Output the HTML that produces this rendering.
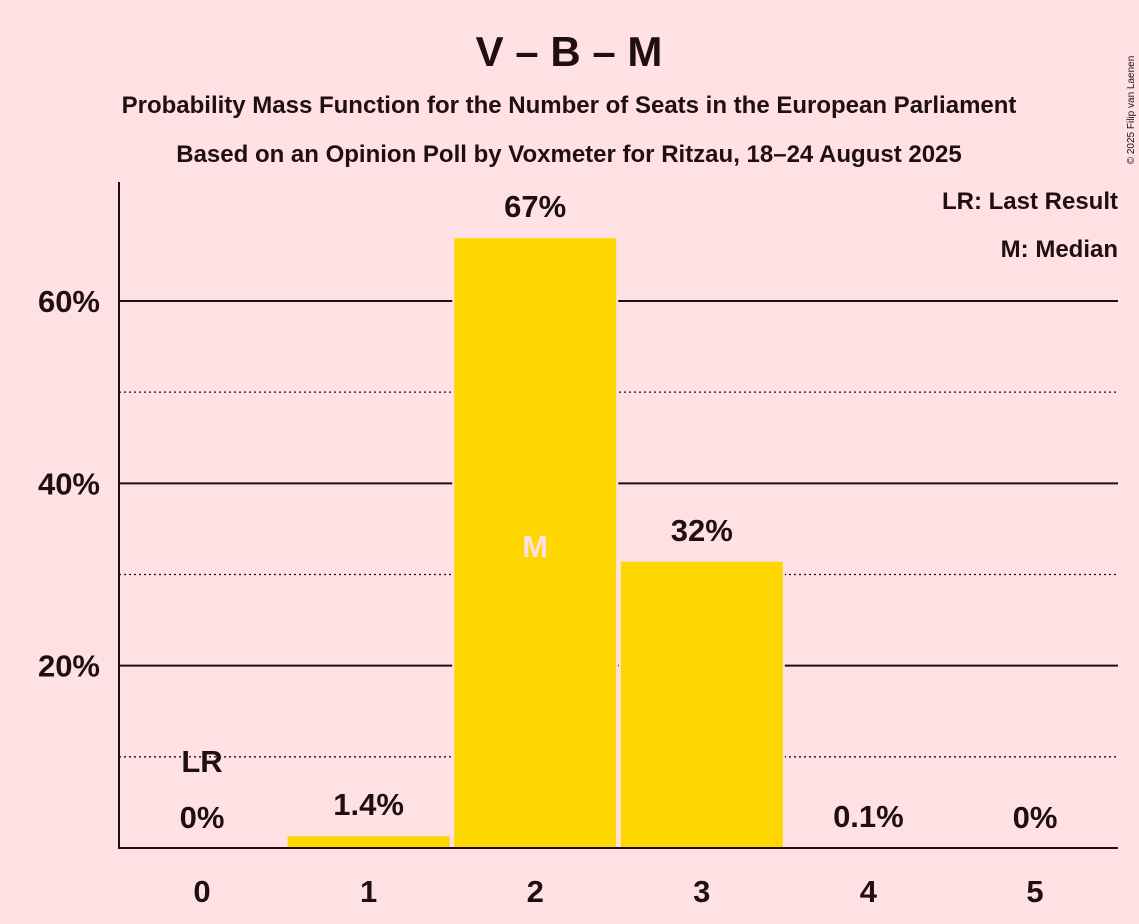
<!DOCTYPE html>
<html><head><meta charset="utf-8"><style>
html,body{margin:0;padding:0;background:#ffe1e4;}
svg{display:block;font-family:"Liberation Sans",sans-serif;}
</style></head><body>
<svg id="chart" width="1139" height="924" viewBox="0 0 1139 924">
<rect width="1139" height="924" fill="#ffe1e4"/>
<text x="569" y="66" text-anchor="middle" font-size="42" font-weight="bold" fill="#1f0f12">V – B – M</text>
<text x="569" y="113" text-anchor="middle" font-size="24" font-weight="bold" fill="#1f0f12">Probability Mass Function for the Number of Seats in the European Parliament</text>
<text x="569" y="162" text-anchor="middle" font-size="24" font-weight="bold" fill="#1f0f12">Based on an Opinion Poll by Voxmeter for Ritzau, 18–24 August 2025</text>
<text x="1134" y="110" font-size="10" fill="#1f0f12" transform="rotate(-90 1134 110)" text-anchor="middle">© 2025 Filip van Laenen</text>
<text x="1118" y="209" text-anchor="end" font-size="24" font-weight="bold" fill="#1f0f12">LR: Last Result</text>
<text x="1118" y="257" text-anchor="end" font-size="24" font-weight="bold" fill="#1f0f12">M: Median</text>
<g id="grid"></g>
<g id="bars"></g>
<g id="labels"></g>
<line x1="119" y1="182" x2="119" y2="849" stroke="#1f0f12" stroke-width="2"/>
<line x1="118" y1="848" x2="1118" y2="848" stroke="#1f0f12" stroke-width="2"/>
</svg>
<script>
const categories = [0, 1, 2, 3, 4, 5];
const values = [0, 1.4, 67, 31.5, 0.1, 0];
const valueLabels = ["0%", "1.4%", "67%", "32%", "0.1%", "0%"];
const yTicks = [20, 40, 60];
const yMinor = [10, 30, 50];
const lastResult = 0;
const median = 2;

const ns = "http://www.w3.org/2000/svg";
const y = v => 848 - v * 9.117;
const x = c => 202 + c * 166.6;
const bw = 164;
function mk(tag, attrs, parent, text) {
  const el = document.createElementNS(ns, tag);
  for (const k in attrs) el.setAttribute(k, attrs[k]);
  if (text !== undefined) el.textContent = text;
  parent.appendChild(el);
  return el;
}
const grid = document.getElementById('grid');
const bars = document.getElementById('bars');
const labels = document.getElementById('labels');
yMinor.forEach(t => {
  const l = mk('line', {x1: 119, x2: 1118, y1: y(t), y2: y(t), stroke: '#1f0f12', 'stroke-width': 1.3, 'stroke-dasharray': '2,3'}, grid);
  
  
});
yTicks.forEach(t => {
  const l = mk('line', {x1: 119, x2: 1118, y1: y(t), y2: y(t), stroke: '#1f0f12', 'stroke-width': 2}, grid);
  
  
  const tx = mk('text', {x: 100, y: y(t) + 11, 'text-anchor': 'end', 'font-size': 31, 'font-weight': 'bold', fill: '#1f0f12'}, labels, t + '%');
  
  
});
categories.forEach((c, i) => {
  const v = values[i];
  const top = y(v);
  if (v > 0) {
    const r = mk('rect', {x: x(c) - bw / 2, y: top, width: bw, height: 848 - top, fill: '#ffd700', stroke: '#ffe1e4', 'stroke-width': 2}, bars);
    
    
  }
  const vl = mk('text', {x: x(c), y: Math.min(top, 848) - 20, 'text-anchor': 'middle', 'font-size': 31, 'font-weight': 'bold', fill: '#1f0f12'}, labels, valueLabels[i]);
  
  
  const xl = mk('text', {x: x(c), y: 902, 'text-anchor': 'middle', 'font-size': 31, 'font-weight': 'bold', fill: '#1f0f12'}, labels, String(c));
  
  
  if (c === lastResult) {
    const lr = mk('text', {x: x(c), y: Math.min(top, 848) - 76, 'text-anchor': 'middle', 'font-size': 31, 'font-weight': 'bold', fill: '#1f0f12'}, labels, 'LR');
    
    
  }
  if (c === median) {
    const m = mk('text', {x: x(c), y: 557, 'text-anchor': 'middle', 'font-size': 31, 'font-weight': 'bold', fill: '#ffe1e4'}, labels, 'M');
    
    
  }
});
</script>
</body></html>
